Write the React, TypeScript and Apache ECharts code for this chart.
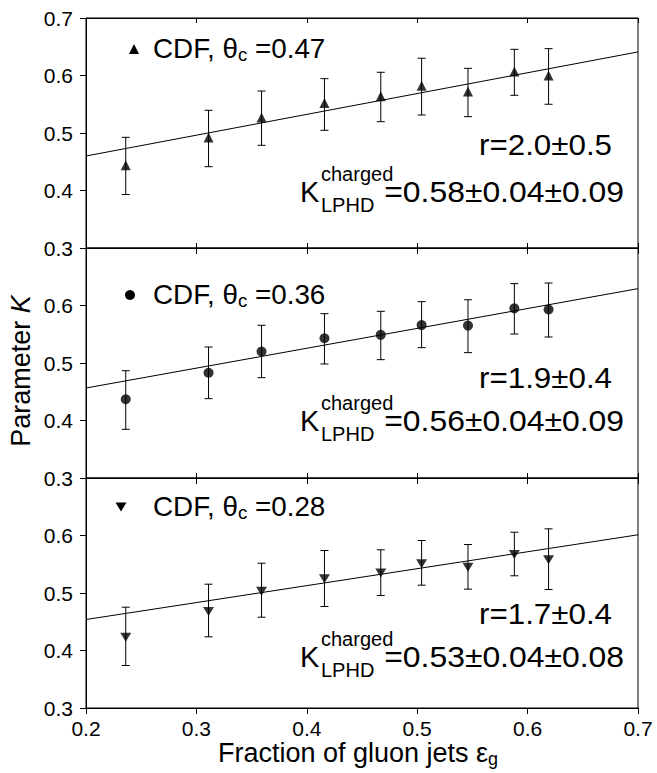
import React, { useEffect, useRef } from "react";
import * as echarts from "echarts";

// ---- data ----
const xValues = [0.236, 0.311, 0.359, 0.416, 0.467, 0.504, 0.546, 0.588, 0.619];

const k047 = [0.444, 0.492, 0.527, 0.552, 0.564, 0.582, 0.572, 0.607, 0.600];
const k047Hi = [0.4925, 0.5395, 0.573, 0.5945, 0.6056, 0.630, 0.6125, 0.6455, 0.6467];
const k047Lo = [0.393, 0.4414, 0.4786, 0.5047, 0.5197, 0.5313, 0.5284, 0.5656, 0.550];
const fit047 = [0.460, 0.641]; // fit line values at x = 0.2 and 0.7

const k036 = [0.437, 0.483, 0.520, 0.543, 0.549, 0.566, 0.565, 0.595, 0.593];
const k036Hi = [0.4866, 0.5278, 0.5656, 0.5858, 0.5899, 0.6067, 0.610, 0.638, 0.6391];
const k036Lo = [0.3847, 0.438, 0.4745, 0.4983, 0.5058, 0.5267, 0.518, 0.5504, 0.5452];
const fit036 = [0.4565, 0.6293];

const k028 = [0.423, 0.468, 0.503, 0.525, 0.535, 0.551, 0.545, 0.567, 0.558];
const k028Hi = [0.4753, 0.5153, 0.5518, 0.5739, 0.5751, 0.5913, 0.5843, 0.6057, 0.6116];
const k028Lo = [0.3739, 0.4238, 0.4579, 0.4765, 0.4957, 0.5136, 0.5067, 0.5299, 0.5061];
const fit028 = [0.4539, 0.6012];

const fitX = [0.2, 0.7];
const thetaLabels = ["0.47", "0.36", "0.28"];
const rLabels = ["r=2.0±0.5", "r=1.9±0.4", "r=1.7±0.4"];
const kLabels = ["=0.58±0.04±0.09", "=0.56±0.04±0.09", "=0.53±0.04±0.08"];

const FONT = "'Liberation Sans', Arial, Helvetica, sans-serif";

const panels = [
  { k: k047, hi: k047Hi, lo: k047Lo, fit: fit047, symbol: "triangle", size: [10, 10] },
  { k: k036, hi: k036Hi, lo: k036Lo, fit: fit036, symbol: "circle", size: 10 },
  { k: k028, hi: k028Hi, lo: k028Lo, fit: fit028, symbol: "path://M0,0L10,0L5,9Z", size: [11, 9] },
];

// layout
const LEFT = 86;
const WIDTH = 552;
const TOPS = [18, 248, 478];
const HEIGHT = 230;
const legendY = [49, 295, 507];
const legendIconX = [134, 130, 121];
const rY = [145, 378, 614];
const kY = [192, 421, 657];

export default function App() {
  const ref = useRef<HTMLDivElement>(null);

  useEffect(() => {
    if (!ref.current) return;
    const chart = echarts.init(ref.current, null, { renderer: "svg" });

    const grids = TOPS.map((t) => ({
      left: LEFT,
      width: WIDTH,
      top: t,
      height: HEIGHT,
      show: true,
      borderColor: "#000",
      borderWidth: 1,
      backgroundColor: "transparent",
    }));

    const xAxes: any[] = [];
    TOPS.forEach((_, i) => {
      xAxes.push({
        type: "value",
        gridIndex: i,
        position: "bottom",
        min: 0.2,
        max: 0.7,
        interval: 0.1,
        axisLine: { show: true, lineStyle: { color: "#000", width: 1 } },
        axisTick: { show: true, inside: false, length: 6, lineStyle: { color: "#000" } },
        axisLabel: {
          show: i === 2,
          color: "#000",
          fontSize: 21,
          fontFamily: FONT,
          margin: 10,
          formatter: (v: number) => v.toFixed(1),
        },
        splitLine: { show: false },
      });
    });
    TOPS.forEach((_, i) => {
      xAxes.push({
        type: "value",
        gridIndex: i,
        position: "top",
        min: 0.2,
        max: 0.7,
        interval: 0.1,
        axisLine: { show: true, lineStyle: { color: "#000", width: 1 } },
        axisTick: { show: true, inside: i === 0, length: 5, lineStyle: { color: "#000" } },
        axisLabel: { show: false },
        splitLine: { show: false },
      });
    });

    const yAxes = TOPS.map((_, i) => ({
      type: "value",
      gridIndex: i,
      min: 0.3,
      max: 0.7,
      interval: 0.1,
      axisLine: { show: true, lineStyle: { color: "#000", width: 1 } },
      axisTick: { show: true, inside: false, length: 6, lineStyle: { color: "#000" } },
      axisLabel: {
        color: "#000",
        fontSize: 21,
        fontFamily: FONT,
        margin: 13,
        formatter: (v: number) => (i > 0 && v > 0.65 ? "" : v.toFixed(1)),
      },
      splitLine: { show: false },
    }));

    const series: any[] = [];
    panels.forEach((p, i) => {
      series.push({
        type: "line",
        xAxisIndex: i,
        yAxisIndex: i,
        data: fitX.map((x, j) => [x, p.fit[j]]),
        showSymbol: false,
        symbol: "none",
        lineStyle: { color: "#000", width: 1 },
        z: 2,
      });
      series.push({
        type: "custom",
        xAxisIndex: i,
        yAxisIndex: i,
        data: xValues.map((x, j) => [x, p.lo[j], p.hi[j]]),
        encode: { x: 0, y: [1, 2] },
        renderItem: (params: any, api: any) => {
          const x = api.value(0);
          const a = api.coord([x, api.value(1)]);
          const b = api.coord([x, api.value(2)]);
          const w = 4;
          const st = { stroke: "#000", lineWidth: 1 };
          return {
            type: "group",
            children: [
              { type: "line", shape: { x1: a[0], y1: a[1], x2: b[0], y2: b[1] }, style: st },
              { type: "line", shape: { x1: a[0] - w, y1: a[1], x2: a[0] + w, y2: a[1] }, style: st },
              { type: "line", shape: { x1: b[0] - w, y1: b[1], x2: b[0] + w, y2: b[1] }, style: st },
            ],
          };
        },
        z: 3,
      });
      series.push({
        type: "scatter",
        xAxisIndex: i,
        yAxisIndex: i,
        data: xValues.map((x, j) => [x, p.k[j]]),
        symbol: p.symbol,
        symbolSize: p.size,
        itemStyle: { color: "#000" },
        z: 4,
      });
    });

    const graphic: any[] = [];
    // legend icons
    graphic.push({
      type: "polygon",
      shape: { points: [[legendIconX[0] - 5, legendY[0] + 5], [legendIconX[0] + 5, legendY[0] + 5], [legendIconX[0], legendY[0] - 5]] },
      style: { fill: "#000" },
    });
    graphic.push({
      type: "circle",
      shape: { cx: legendIconX[1], cy: legendY[1], r: 5 },
      style: { fill: "#000" },
    });
    graphic.push({
      type: "polygon",
      shape: { points: [[legendIconX[2] - 5.5, legendY[2] - 4.5], [legendIconX[2] + 5.5, legendY[2] - 4.5], [legendIconX[2], legendY[2] + 4.5]] },
      style: { fill: "#000" },
    });

    const plain = (x: number, y: number, text: string, size: number, align: string, scaleX = 1) => ({
      type: "text",
      x,
      y,
      scaleX,
      style: {
        text,
        fontSize: size,
        fontFamily: FONT,
        fill: "#000",
        textAlign: align,
        textVerticalAlign: "middle",
        align,
        verticalAlign: "middle",
      },
    });

    TOPS.forEach((_, i) => {
      // legend text
      graphic.push({
        type: "text",
        x: 153,
        y: legendY[i],
        scaleX: 1.03,
        style: {
          text: `{a|CDF, θ}{s|c}{a| =${thetaLabels[i]}}`,
          textAlign: "left",
          textVerticalAlign: "middle",
          align: "left",
          verticalAlign: "middle",
          fill: "#000",
          rich: {
            a: { fontSize: 27, fontFamily: FONT, fill: "#000" },
            s: { fontSize: 18, fontFamily: FONT, fill: "#000", padding: [12, 0, 0, 0] },
          },
        },
      });
      graphic.push(plain(612, rY[i], rLabels[i], 29, "right", 1.08));
      graphic.push(plain(300, kY[i], "K", 29, "left"));
      graphic.push(plain(321, kY[i] - 18, "charged", 20, "left"));
      graphic.push(plain(321, kY[i] + 13, "LPHD", 20, "left"));
      graphic.push(plain(624, kY[i], kLabels[i], 29, "right", 1.1));
    });

    // axis titles
    graphic.push({
      type: "text",
      x: 358,
      y: 753,
      style: {
        text: "{a|Fraction of gluon jets ε}{s|g}",
        textAlign: "center",
        textVerticalAlign: "middle",
        align: "center",
        verticalAlign: "middle",
        fill: "#000",
        rich: {
          a: { fontSize: 27, fontFamily: FONT, fill: "#000" },
          s: { fontSize: 18, fontFamily: FONT, fill: "#000", padding: [12, 0, 0, 0] },
        },
      },
    });
    graphic.push({
      type: "text",
      x: 21,
      y: 371,
      rotation: Math.PI / 2,
      style: {
        text: "{a|Parameter }{i|K}",
        textAlign: "center",
        textVerticalAlign: "middle",
        align: "center",
        verticalAlign: "middle",
        fill: "#000",
        rich: {
          a: { fontSize: 27, fontFamily: FONT, fill: "#000" },
          i: { fontSize: 27, fontFamily: FONT, fontStyle: "italic", fill: "#000" },
        },
      },
    });

    chart.setOption({
      animation: false,
      backgroundColor: "#fff",
      grid: grids,
      xAxis: xAxes,
      yAxis: yAxes,
      series,
      graphic,
    });

    return () => chart.dispose();
  }, []);

  return (
    <div
      ref={ref}
      style={{ position: "absolute", left: 0, top: 0, width: 657, height: 773 }}
    />
  );
}
